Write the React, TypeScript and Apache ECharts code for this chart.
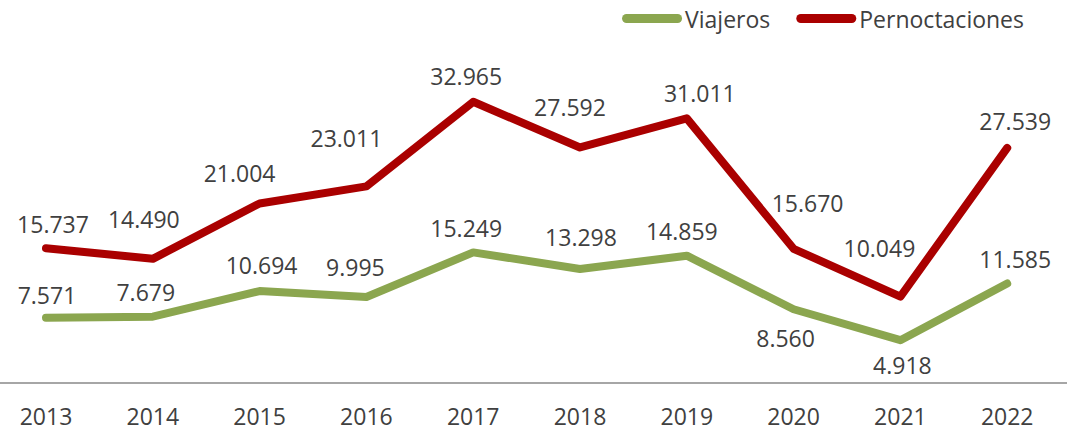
import React, { useEffect, useRef } from "react";
import * as echarts from "echarts";

const years = ["2013", "2014", "2015", "2016", "2017", "2018", "2019", "2020", "2021", "2022"];
const viajeros = [7.571, 7.679, 10.694, 9.995, 15.249, 13.298, 14.859, 8.56, 4.918, 11.585];
const pernoctaciones = [15.737, 14.49, 21.004, 23.011, 32.965, 27.592, 31.011, 15.67, 10.049, 27.539];

// label centre offsets [dx, dy] from the data point
const viajerosLabelOffset = [[1, -23], [-7, -25], [2, -26], [-11, -30], [-7, -24], [1, -32], [-5, -25], [-8, 29], [2, 25], [8, -25]];
const pernocLabelOffset = [[7, -24], [-9, -40], [-20, -30], [-20, -48], [-7, -26], [-10, -40], [13, -25], [14, -46], [-21, -49], [8, -27]];

const fmt = (v: number) => v.toFixed(3);
const FONT = "'Open Sans', 'Noto Sans', sans-serif";
const TEXT = "#404040";
const GREEN = "#8ba64f";
const RED = "#aa0000";

export default function App() {
  const ref = useRef<HTMLDivElement>(null);
  useEffect(() => {
    if (!ref.current) return;
    const chart = echarts.init(ref.current, undefined, { renderer: "svg" });
    const mk = (vals: number[], offs: number[][]) =>
      vals.map((v, i) => ({ value: v, label: { show: true, position: "inside", offset: offs[i] } }));
    const labelStyle = {
      show: true,
      position: "inside",
      formatter: (p: any) => fmt(p.value),
      color: TEXT,
      fontSize: 23,
      fontFamily: FONT,
    };
    const pill = "path://M4.5,0 L55.5,0 A4.5,4.5 0 0 1 55.5,9 L4.5,9 A4.5,4.5 0 0 1 4.5,0 Z";
    chart.setOption({
      animation: false,
      textStyle: { fontFamily: FONT },
      legend: {
        top: 2,
        right: 51,
        itemWidth: 60,
        itemHeight: 9,
        itemGap: 26,
        textStyle: { color: TEXT, fontSize: 23, fontFamily: FONT, padding: [0, 0, 0, -2] },
        data: [
          { name: "Viajeros", icon: pill },
          { name: "Pernoctaciones", icon: pill },
        ],
      },
      graphic: [
        {
          type: "line",
          shape: { x1: 20, y1: 383, x2: 1087, y2: 383 },
          style: { stroke: "#a6a6a6", lineWidth: 2 },
          silent: true,
        },
      ],
      grid: { left: 12.6, right: 19.4, top: 42, bottom: 49, containLabel: false },
      xAxis: {
        type: "category",
        data: years,
        boundaryGap: true,
        axisLine: { show: false },
        axisTick: { show: false },
        axisLabel: { color: TEXT, fontSize: 23, lineHeight: 23, fontFamily: FONT, margin: 22 },
      },
      yAxis: {
        type: "value",
        min: 0,
        max: 40,
        show: false,
        splitLine: { show: false },
      },
      series: [
        {
          name: "Viajeros",
          type: "line",
          data: mk(viajeros, viajerosLabelOffset),
          symbol: "circle",
          symbolSize: 2,
          showSymbol: true,
          lineStyle: { color: GREEN, width: 8, cap: "round", join: "round" },
          itemStyle: { color: GREEN },
          label: labelStyle,
        },
        {
          name: "Pernoctaciones",
          type: "line",
          data: mk(pernoctaciones, pernocLabelOffset),
          symbol: "circle",
          symbolSize: 2,
          showSymbol: true,
          lineStyle: { color: RED, width: 8, cap: "round", join: "round" },
          itemStyle: { color: RED },
          label: labelStyle,
        },
      ],
    });
    return () => chart.dispose();
  }, []);
  return (
    <div
      ref={ref}
      style={{ position: "absolute", left: -20, top: 0, width: 1100, height: 431, background: "#fff" }}
    />
  );
}
